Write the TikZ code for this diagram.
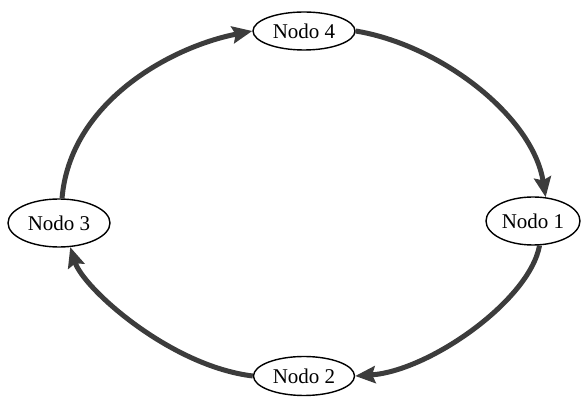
\documentclass[tikz,border=0pt]{standalone}
\usepackage{fontspec}
\setmainfont{Liberation Serif}
\usetikzlibrary{shapes.geometric,arrows.meta}
\definecolor{arrowgray}{HTML}{3C3C3C}
\tikzset{
  nodo/.style={ellipse, draw=black, line width=1.4pt, fill=white, inner sep=0pt,
    font=\fontsize{21}{24}\selectfont},
  flow/.style={draw=arrowgray, line width=5pt,
    -{Stealth[length=20pt,width=17pt,inset=3pt]}}
}
\begin{document}
\begin{tikzpicture}[x=1pt,y=1pt]
\useasboundingbox (0,0) rectangle (582,402);
\node[nodo, minimum width=102pt, minimum height=38pt] (n4) at (304,371) {Nodo 4};
\node[nodo, minimum width=94pt, minimum height=48pt] (n1) at (533,181) {Nodo 1};
\node[nodo, minimum width=101pt, minimum height=39pt] (n2) at (304,26) {Nodo 2};
\node[nodo, minimum width=102pt, minimum height=48pt] (n3) at (59,179) {Nodo 3};
\draw[flow] (n4.east) .. controls +(85,-14) and +(-13,81) .. (n1.62);
\draw[flow] (n1.-75) .. controls +(-10,-55) and +(74,5) .. (n2.east);
\draw[flow] (n2.west) .. controls +(-83,10) and +(13,-41) .. (n3.-65);
\draw[flow] (n3.83) .. controls +(8,96) and +(-82,-16) .. (n4.west);
\end{tikzpicture}
\end{document}
